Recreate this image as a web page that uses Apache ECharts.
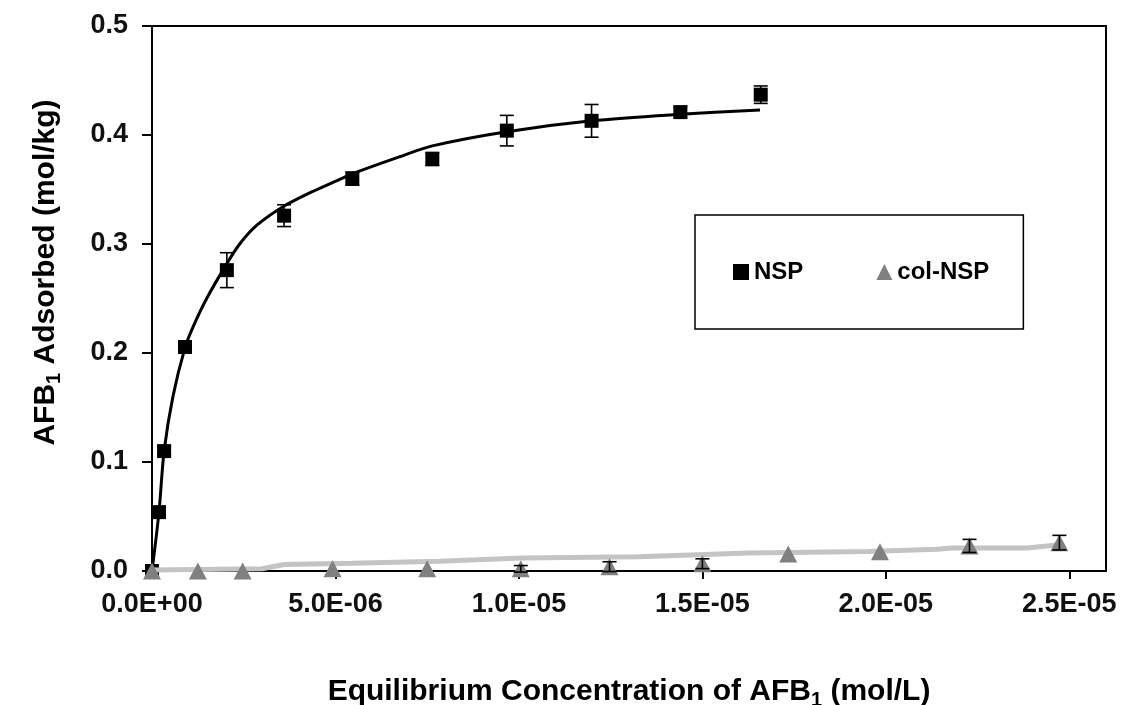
<!DOCTYPE html>
<html>
<head>
<meta charset="utf-8">
<script src="https://cdn.jsdelivr.net/npm/echarts@6/dist/echarts.min.js"></script>
<style>
  html, body { margin: 0; padding: 0; background: #fff; }
  #chart { width: 1123px; height: 705px; }
</style>
</head>
<body>
<div id="chart"></div>
<script>
// ---- Data ----
// NSP measured points (x: mol/L, y: mol/kg, err: +/- mol/kg)
const nspX   = [0, 1.9e-7, 3.3e-7, 9.0e-7, 2.04e-6, 3.6e-6, 5.46e-6, 7.64e-6, 9.67e-6, 1.198e-5, 1.44e-5, 1.659e-5];
const nspY   = [0, 0.054, 0.110, 0.2055, 0.276, 0.326, 0.360, 0.378, 0.404, 0.413, 0.421, 0.437];
const nspErr = [0, 0.004, 0.004, 0.004, 0.016, 0.010, 0.006, 0.006, 0.014, 0.015, 0.005, 0.008];

// NSP fitted curve
const fitX = [0, 1.9e-7, 3.3e-7, 5.7e-7, 9.0e-7, 1.12e-6, 1.49e-6, 2.04e-6, 2.39e-6, 2.85e-6, 3.56e-6, 4.37e-6, 5.1e-6, 5.5e-6, 6.74e-6, 7.64e-6, 9.67e-6, 1.198e-5, 1.44e-5, 1.657e-5];
const fitY = [0, 0.054, 0.110, 0.160, 0.205, 0.224, 0.250, 0.282, 0.300, 0.317, 0.334, 0.348, 0.359, 0.365, 0.380, 0.390, 0.403, 0.413, 0.419, 0.423];

// col-NSP measured points
const colX   = [0, 1.25e-6, 2.47e-6, 4.92e-6, 7.5e-6, 1.005e-5, 1.247e-5, 1.5e-5, 1.734e-5, 1.984e-5, 2.228e-5, 2.473e-5];
const colY   = [0, 0, 0, 0.002, 0.002, 0.002, 0.004, 0.0067, 0.0156, 0.0177, 0.023, 0.026];
const colErr = [0, 0, 0, 0, 0, 0.003, 0.0045, 0.0045, 0, 0, 0.006, 0.0067];

// col-NSP fitted line
const colFitX = [0, 3.0e-6, 3.6e-6, 5.46e-6, 7.83e-6, 1.008e-5, 1.326e-5, 1.625e-5, 1.951e-5, 2.14e-5, 2.18e-5, 2.385e-5, 2.473e-5];
const colFitY = [0.001, 0.002, 0.006, 0.007, 0.009, 0.012, 0.013, 0.0165, 0.018, 0.020, 0.021, 0.021, 0.024];

const seriesNames = ['NSP', 'col-NSP'];
const xTickStep = 5e-6;
const yTickStep = 0.1;

// ---- Chart ----
const zip2 = (a, b) => a.map((v, i) => [v, b[i]]);
const zip3 = (a, b, c) => a.map((v, i) => [v, b[i], c[i]]);

function errRender(params, api) {
  const x = api.value(0), y = api.value(1), e = api.value(2);
  if (!e) return null;
  const top = api.coord([x, y + e]);
  const bot = api.coord([x, y - e]);
  const hw = 7;
  const st = { stroke: '#000', lineWidth: 1.6 };
  return {
    type: 'group',
    children: [
      { type: 'line', shape: { x1: top[0], y1: top[1], x2: bot[0], y2: bot[1] }, style: st },
      { type: 'line', shape: { x1: top[0] - hw, y1: top[1], x2: top[0] + hw, y2: top[1] }, style: st },
      { type: 'line', shape: { x1: bot[0] - hw, y1: bot[1], x2: bot[0] + hw, y2: bot[1] }, style: st }
    ]
  };
}

function fmtExp(v) {
  const k = v / xTickStep;
  if (Math.abs(k - Math.round(k)) > 1e-6) return '';
  if (v === 0) return '0.0E+00';
  const s = v.toExponential(1); // e.g. 5.0e-6
  const m = s.split('e');
  const ex = parseInt(m[1], 10);
  const sign = ex < 0 ? '-' : '+';
  const abs = Math.abs(ex);
  return m[0] + 'E' + sign + (abs < 10 ? '0' + abs : '' + abs);
}

const tickFont = "'Liberation Sans Narrow', 'Liberation Sans', Arial, sans-serif";
const mainFont = "'Liberation Sans', Arial, sans-serif";

const chart = echarts.init(document.getElementById('chart'), null, { renderer: 'canvas' });
chart.setOption({
  backgroundColor: '#fff',
  animation: false,
  grid: {
    left: 152, right: 17, top: 26, bottom: 134,
    containLabel: false, outerBoundsMode: 'none',
    show: true, borderColor: '#000', borderWidth: 2, backgroundColor: 'transparent'
  },
  legend: {
    data: [
      { name: seriesNames[0], icon: 'rect' },
      { name: seriesNames[1], icon: 'triangle' }
    ],
    left: 695, top: 215,
    orient: 'horizontal',
    padding: [45, 34, 45, 38],
    itemGap: 73,
    itemWidth: 16, itemHeight: 16,
    backgroundColor: '#fff',
    borderColor: '#000', borderWidth: 1.5,
    textStyle: { fontFamily: mainFont, fontWeight: 'bold', fontSize: 24, color: '#000' }
  },
  xAxis: {
    type: 'value',
    min: 0, max: 2.6e-5, interval: xTickStep,
    splitLine: { show: false },
    axisLine: { show: true, onZero: false, lineStyle: { color: '#000', width: 2 } },
    axisTick: { show: true, inside: false, length: 8, lineStyle: { color: '#000', width: 2 } },
    axisLabel: {
      showMaxLabel: false,
      margin: 20,
      formatter: fmtExp,
      fontFamily: tickFont, fontWeight: 'bold', fontSize: 27, color: '#111'
    },
    name: '{t|Equilibrium Concentration of AFB}{s|1}{t| (mol/L)}',
    nameLocation: 'middle',
    nameGap: 103,
    nameTextStyle: {
      rich: {
        t: { fontFamily: mainFont, fontWeight: 'bold', fontSize: 30, color: '#000', lineHeight: 36 },
        s: { fontFamily: mainFont, fontWeight: 'bold', fontSize: 20, color: '#000', lineHeight: 22, verticalAlign: 'bottom' }
      }
    }
  },
  yAxis: {
    type: 'value',
    min: 0, max: 0.5, interval: yTickStep,
    splitLine: { show: false },
    axisLine: { show: true, onZero: false, lineStyle: { color: '#000', width: 2 } },
    axisTick: { show: true, inside: false, length: 10, lineStyle: { color: '#000', width: 2 } },
    axisLabel: {
      margin: 24,
      formatter: v => v.toFixed(1),
      fontFamily: tickFont, fontWeight: 'bold', fontSize: 27, color: '#111'
    },
    name: '{t|AFB}{s|1}{t| Adsorbed (mol/kg)}',
    nameLocation: 'middle',
    nameGap: 88,
    nameTextStyle: {
      padding: [0, 0, 0, 52],
      rich: {
        t: { fontFamily: mainFont, fontWeight: 'bold', fontSize: 30, color: '#000', lineHeight: 36 },
        s: { fontFamily: mainFont, fontWeight: 'bold', fontSize: 20, color: '#000', lineHeight: 22, verticalAlign: 'bottom' }
      }
    }
  },
  series: [
    {
      name: 'NSP fit', type: 'line', data: zip2(fitX, fitY),
      showSymbol: false, symbol: 'none', smooth: 0.3,
      lineStyle: { color: '#000', width: 3 }, z: 2, silent: true
    },
    {
      name: seriesNames[0], type: 'scatter', data: zip2(nspX, nspY),
      symbol: 'rect', symbolSize: 14,
      itemStyle: { color: '#000', opacity: 1 }, z: 3
    },
    {
      name: 'NSP error', type: 'custom', data: zip3(nspX, nspY, nspErr),
      renderItem: errRender, encode: { x: 0, y: 1 }, z: 4, silent: true
    },
    {
      name: 'col-NSP fit', type: 'line', data: zip2(colFitX, colFitY),
      showSymbol: false, symbol: 'none', smooth: false,
      lineStyle: { color: '#c4c4c4', width: 5 }, z: 5, silent: true
    },
    {
      name: seriesNames[1], type: 'scatter', data: zip2(colX, colY),
      symbol: 'triangle', symbolSize: [18, 17],
      itemStyle: { color: '#808080', opacity: 1 }, z: 6
    },
    {
      name: 'col-NSP error', type: 'custom', data: zip3(colX, colY, colErr),
      renderItem: errRender, encode: { x: 0, y: 1 }, z: 7, silent: true
    }
  ]
});
</script>
</body>
</html>
